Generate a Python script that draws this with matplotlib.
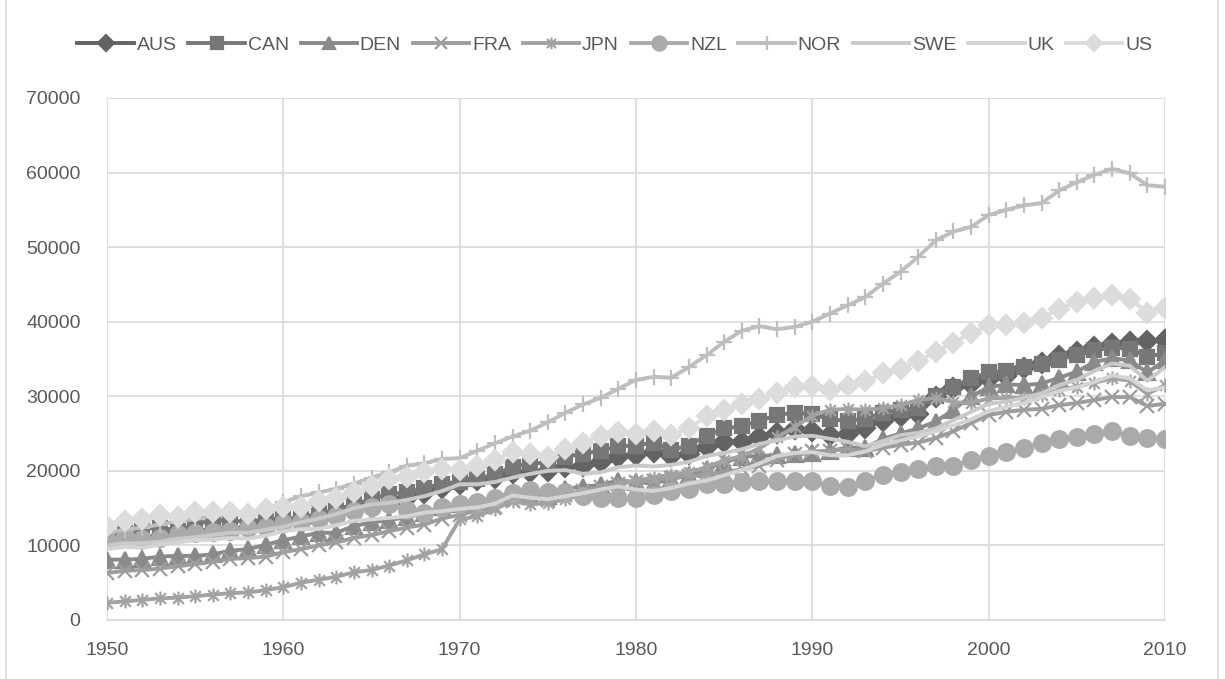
import numpy as np
import matplotlib.pyplot as plt
from matplotlib.path import Path
from matplotlib.lines import Line2D

years = list(range(1950, 2011))

aus = [10900, 11200, 10900, 11100, 11600, 12000, 12000, 12100, 12400, 12900,
       13300, 13000, 13600, 14200, 14900, 15400, 15500, 16300, 17000, 17700,
       18300, 18800, 19000, 19700, 19900, 20000, 20500, 20600, 21200, 21800,
       22100, 22500, 22000, 22300, 23200, 23900, 23900, 24500, 25100, 25600,
       25400, 24800, 25000, 25800, 26700, 27400, 27600, 29900, 31100, 31600,
       32300, 32700, 33800, 34500, 35400, 36000, 36600, 37000, 37300, 37400, 37500]
can = [11300, 11700, 12200, 12400, 12000, 12800, 13400, 13300, 13200, 13500,
       13600, 13700, 14300, 14800, 15500, 16200, 16900, 17100, 17700, 18300,
       18500, 18900, 19600, 20500, 21000, 21100, 21900, 22300, 22700, 23300,
       23400, 23800, 22800, 23400, 24700, 25700, 26000, 26700, 27500, 27800,
       27600, 26900, 26700, 27000, 27800, 28200, 28400, 30100, 31300, 32400,
       33200, 33400, 33900, 34300, 34900, 35600, 36200, 36500, 36400, 35300, 35800]
den = [8100, 8100, 8200, 8500, 8600, 8600, 8800, 9300, 9500, 10100,
       10700, 11200, 11700, 11700, 12600, 13100, 13400, 13800, 14300, 15200,
       15500, 15800, 16500, 17000, 16800, 16600, 17600, 17900, 18100, 18700,
       18500, 18300, 18900, 19400, 20300, 21100, 21900, 22000, 22100, 22200,
       22400, 22700, 23100, 23100, 24300, 25000, 25700, 26600, 28200, 30000,
       31200, 31600, 31500, 31700, 32500, 33300, 34600, 35100, 34800, 33200, 34800]
fra = [6300, 6600, 6700, 6900, 7200, 7500, 7800, 8200, 8300, 8500,
       9100, 9500, 10000, 10400, 11000, 11400, 11900, 12400, 12800, 13600,
       14100, 14700, 15200, 15900, 16300, 16100, 16800, 17300, 17800, 18300,
       18500, 18700, 19100, 19300, 19500, 19800, 20200, 20700, 21500, 22200,
       22600, 22700, 22900, 22600, 23100, 23500, 23800, 24400, 25300, 26400,
       27500, 27900, 28200, 28300, 28800, 29100, 29500, 29900, 29900, 28700, 29000]
jpn = [2300, 2500, 2700, 2900, 3000, 3200, 3400, 3600, 3700, 4000,
       4400, 5000, 5400, 5800, 6400, 6700, 7300, 8000, 8800, 9500,
       13500, 13900, 14900, 15900, 15500, 15700, 16200, 16800, 17500, 18300,
       18700, 19100, 19500, 19800, 20500, 21400, 22000, 23000, 24500, 25900,
       27400, 28200, 28300, 28200, 28400, 28800, 29500, 29800, 29200, 29100,
       29700, 29800, 29800, 30200, 30800, 31300, 31800, 32400, 32100, 30300, 31500]
nzl = [10700, 11200, 10900, 11000, 11500, 11700, 11800, 12000, 12300, 12500,
       13000, 13100, 13500, 14000, 14600, 15100, 15500, 14700, 14400, 15200,
       15500, 15800, 16300, 17000, 17400, 17200, 17200, 16600, 16300, 16400,
       16300, 16800, 17300, 17600, 18200, 18300, 18500, 18600, 18600, 18700,
       18600, 18000, 17900, 18700, 19500, 19900, 20300, 20600, 20600, 21500,
       22000, 22500, 23100, 23800, 24300, 24600, 24900, 25300, 24700, 24400, 24300]
nor = [11700, 12100, 12400, 12800, 13300, 13500, 14000, 14300, 14200, 14900,
       15800, 16600, 17100, 17600, 18300, 19100, 19800, 20700, 21000, 21600,
       21700, 22700, 23700, 24600, 25400, 26500, 27800, 28900, 29800, 31000,
       32200, 32600, 32500, 33900, 35500, 37300, 38800, 39400, 39000, 39300,
       40000, 41100, 42200, 43300, 45100, 46700, 48700, 50900, 52100, 52700,
       54300, 55000, 55600, 55900, 57600, 58700, 59700, 60500, 59900, 58300, 58100]
swe = [10000, 10300, 10300, 10500, 10900, 11100, 11400, 11700, 11700, 12100,
       12500, 13100, 13600, 14200, 15000, 15500, 15700, 16100, 16600, 17300,
       18200, 18200, 18500, 19100, 19600, 20000, 20100, 19600, 19800, 20500,
       20700, 20600, 20800, 21200, 22000, 22400, 22900, 23600, 24100, 24600,
       24700, 24300, 23900, 23300, 24000, 24800, 25100, 25700, 26800, 27900,
       29000, 29300, 29800, 30400, 31500, 32200, 33400, 34400, 34100, 32100, 33900]
uk = [9500, 9800, 9700, 10100, 10400, 10700, 10800, 11000, 10900, 11300,
      11900, 12200, 12200, 12700, 13300, 13500, 13700, 13900, 14400, 14600,
      14900, 15100, 15600, 16700, 16400, 16200, 16600, 17000, 17500, 17900,
      17500, 17300, 17700, 18300, 18700, 19400, 20100, 21000, 22000, 22400,
      22500, 22100, 22100, 22600, 23500, 24100, 24600, 25300, 26100, 26900,
      28000, 28600, 29100, 29900, 30700, 31200, 31900, 32800, 32400, 30800, 31200]
us = [12600, 13300, 13600, 14100, 13800, 14500, 14500, 14500, 14200, 14900,
      15100, 15200, 15900, 16400, 17100, 18000, 18900, 19200, 19900, 20300,
      20100, 20600, 21500, 22500, 22200, 21900, 22900, 23700, 24700, 25200,
      24900, 25400, 24800, 25700, 27300, 28200, 28900, 29600, 30500, 31300,
      31400, 30900, 31400, 32000, 33100, 33700, 34700, 36000, 37200, 38500,
      39500, 39500, 39800, 40500, 41700, 42600, 43200, 43600, 43100, 41200, 41900]

names = ["AUS", "CAN", "DEN", "FRA", "JPN", "NZL", "NOR", "SWE", "UK", "US"]
series = [aus, can, den, fra, jpn, nzl, nor, swe, uk, us]
colors = ["#636363", "#777777", "#8a8a8a", "#9d9d9d", "#a2a2a2",
          "#aaaaaa", "#bebebe", "#c9c9c9", "#d4d4d4", "#dcdcdc"]

# star marker: an x with a vertical stroke through it
star = Path([(-1, -1), (1, 1), (-1, 1), (1, -1), (0, -1.3), (0, 1.3)],
            [Path.MOVETO, Path.LINETO, Path.MOVETO, Path.LINETO,
             Path.MOVETO, Path.LINETO])
markers = ["D", "s", "^", "x", star, "o", "+", None, None, "D"]
msizes = [10, 10, 11, 10, 10, 12, 12, 0, 0, 10]

plt.rcParams['font.family'] = ['Liberation Sans', 'DejaVu Sans']
fig = plt.figure(figsize=(12.25, 6.79), dpi=100)
ax = fig.add_axes([107 / 1225, 1 - 620 / 679, (1165 - 107) / 1225, (620 - 98) / 679])

for name, vals, c, m, ms in zip(names, series, colors, markers, msizes):
    kw = dict(color=c, lw=2.8, label=name, solid_joinstyle='round')
    if m is not None:
        kw.update(marker=m, markersize=ms, markerfacecolor=c,
                  markeredgecolor=c, markeredgewidth=1.6)
    ax.plot(years, vals, **kw)

ax.set_xlim(1950, 2010)
ax.set_ylim(0, 70000)
ax.set_xticks(range(1950, 2011, 10))
ax.set_yticks(range(0, 70001, 10000))
ax.grid(True, color="#d9d9d9", lw=1.2)
ax.set_axisbelow(True)
for s in ["top", "right", "left"]:
    ax.spines[s].set_visible(False)
ax.spines["bottom"].set_color("#d9d9d9")
ax.spines["bottom"].set_linewidth(1.2)
ax.tick_params(length=0, labelsize=14, labelcolor="#595959")
ax.tick_params(axis="y", pad=19)
ax.tick_params(axis="x", pad=16)

leg = fig.legend(loc="center", bbox_to_anchor=(0.502, 1 - 45 / 679), ncol=10,
                 frameon=False, fontsize=14, labelcolor="#595959",
                 handlelength=2.9, handletextpad=0.15, columnspacing=0.6,
                 markerscale=0.85)

# thin frame around the chart area
fig.add_artist(Line2D([6 / 1225, 6 / 1225], [0, 1], color="#d9d9d9", lw=1.2))
fig.add_artist(Line2D([1218 / 1225, 1218 / 1225], [0, 1], color="#d9d9d9", lw=1.2))

fig.savefig("out.png", dpi=100)
